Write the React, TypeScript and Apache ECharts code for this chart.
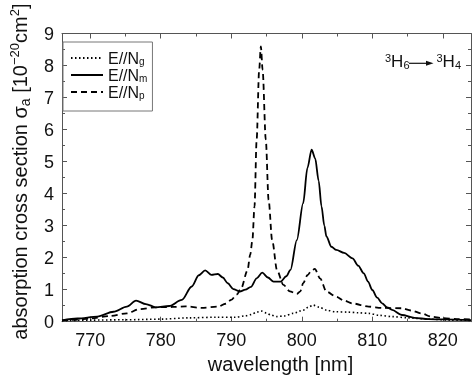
import React, { useEffect, useRef } from "react";
import * as echarts from "echarts";

const FONT = "Liberation Sans, Arial, sans-serif";

const xMajorTicks = [770, 780, 790, 800, 810, 820];
const xMinorTicks = [775, 785, 795, 805, 815];

const ngData: [number, number][] = [
  [766, 0.03], [770, 0.05], [775, 0.06], [780, 0.08], [784, 0.12], [788, 0.14], [790.5, 0.14],
  [792, 0.18], [792.8, 0.22], [793.6, 0.3], [794.3, 0.33], [795, 0.27], [795.6, 0.21], [796.5, 0.16],
  [797.5, 0.18], [798.8, 0.26], [800.2, 0.36], [801, 0.46], [801.6, 0.52], [802.5, 0.45], [803.5, 0.36],
  [804.8, 0.31], [806.5, 0.3], [808, 0.28], [809.5, 0.26], [811, 0.2], [812.8, 0.16], [815, 0.12],
  [818, 0.08], [821, 0.05], [824, 0.04],
];

const nmData: [number, number][] = [
  [766, 0.04], [768.2, 0.1], [771, 0.16], [773.3, 0.31], [775.2, 0.47], [776.5, 0.66], [777.9, 0.55],
  [779.3, 0.45], [781.2, 0.49], [783, 0.68], [784.4, 1.1], [785.4, 1.45], [786.3, 1.6], [787.2, 1.46],
  [788.1, 1.49], [788.8, 1.38], [789.5, 1.2], [790.3, 1.02], [791.2, 0.94], [792, 1.0], [792.8, 1.09],
  [793.6, 1.35], [794.4, 1.53], [795.2, 1.38], [796, 1.25], [797, 1.25], [797.8, 1.42], [798.4, 1.62],
  [799.3, 2.55], [800.2, 3.7], [800.8, 4.8], [801.4, 5.37], [801.9, 5.1], [802.4, 4.4], [802.8, 3.6],
  [803.2, 3.0], [803.5, 2.66], [804.2, 2.34], [804.9, 2.24], [806, 2.15], [807.2, 1.98], [808, 1.75],
  [808.8, 1.51], [809.4, 1.25], [810, 0.99], [810.7, 0.75], [811.4, 0.57], [812.1, 0.45], [812.8, 0.37],
  [814.2, 0.21], [816, 0.12], [818, 0.08], [820, 0.07], [824, 0.05],
];

const npData: [number, number][] = [
  [766, 0.04], [768, 0.06], [770, 0.1], [772.8, 0.18], [775.2, 0.26], [777, 0.39], [779.3, 0.45],
  [781.7, 0.46], [783.5, 0.48], [785.8, 0.43], [788.1, 0.47], [789.2, 0.56], [790, 0.68], [790.8, 0.85],
  [791.4, 1.04], [792.3, 1.6], [792.7, 2.1], [793, 2.55], [793.3, 3.6], [793.6, 5.68], [793.96, 7.86],
  [794.2, 8.6], [794.45, 7.86], [794.9, 5.68], [795.3, 3.8], [795.8, 2.55], [796.5, 1.6], [797.4, 1.15],
  [798.3, 0.95], [799.3, 0.87], [799.8, 0.95], [800.2, 1.2], [800.8, 1.45], [801.4, 1.6], [801.85, 1.65],
  [802.6, 1.35], [803.5, 0.94], [804.9, 0.78], [806, 0.66], [807.2, 0.57], [809.5, 0.47], [811.4, 0.43],
  [814.2, 0.42], [815.5, 0.35], [817, 0.26], [818.3, 0.16], [820, 0.11], [822, 0.08], [824, 0.07],
];

const AX = "#555";

function xAx(position: "top" | "bottom", ticks: number[], len: number, labels: boolean, line: boolean) {
  return {
    type: "value",
    position,
    min: 766,
    max: 824,
    axisLine: { show: line, lineStyle: { color: AX, width: 1 } },
    axisTick: { show: true, inside: true, length: len, customValues: ticks, lineStyle: { color: AX } },
    axisLabel: labels
      ? { show: true, customValues: ticks, margin: 9, fontSize: 18, color: "#111", fontFamily: FONT }
      : { show: false },
    splitLine: { show: false },
  };
}

function yAx(position: "left" | "right", labels: boolean) {
  return {
    type: "value",
    position,
    min: 0,
    max: 9,
    interval: 1,
    axisLine: { show: true, lineStyle: { color: AX, width: 1 } },
    axisTick: { show: true, inside: true, length: 5, lineStyle: { color: AX } },
    minorTick: { show: true, splitNumber: 2, length: 3, lineStyle: { color: AX } },
    axisLabel: labels ? { show: true, margin: 8, fontSize: 18, color: "#111", fontFamily: FONT } : { show: false },
    splitLine: { show: false },
  };
}

const annRich = {
  p: { fontSize: 11, lineHeight: 8, verticalAlign: "top", fontFamily: FONT, color: "#111" },
  h: { fontSize: 17, lineHeight: 18, verticalAlign: "middle", fontFamily: FONT, color: "#111" },
  b: { fontSize: 11, lineHeight: 6, verticalAlign: "bottom", fontFamily: FONT, color: "#111" },
};

export default function App() {
  const ref = useRef<HTMLDivElement>(null);
  useEffect(() => {
    if (!ref.current) return;
    const chart = echarts.init(ref.current, undefined, { renderer: "svg" });
    const xs = [
      xAx("bottom", xMajorTicks, 5, true, true),
      xAx("bottom", xMinorTicks, 3, false, false),
      xAx("top", xMajorTicks, 5, false, true),
      xAx("top", xMinorTicks, 3, false, false),
    ];
    (xs[0] as any).name = "wavelength [nm]";
    (xs[0] as any).nameLocation = "middle";
    (xs[0] as any).nameGap = 25;
    (xs[0] as any).nameTextStyle = { fontSize: 20, color: "#111", fontFamily: FONT, padding: [0, 0, 0, 28] };
    const ys = [yAx("left", true), yAx("right", false)];
    (ys[0] as any).name =
      "{t|absorption cross section σ}{b|a}{t| [10}{p|−20}{t|cm}{p|2}{t|]}";
    (ys[0] as any).nameLocation = "middle";
    (ys[0] as any).nameRotate = 90;
    (ys[0] as any).nameGap = 30;
    (ys[0] as any).nameTextStyle = {
      color: "#111",
      fontFamily: FONT,
      padding: [0, 0, 0, 12],
      rich: {
        t: { fontSize: 20, lineHeight: 24, fontFamily: FONT, color: "#111" },
        b: { fontSize: 14, lineHeight: 12, verticalAlign: "bottom", fontFamily: FONT, color: "#111" },
        p: { fontSize: 13, lineHeight: 12, verticalAlign: "top", fontFamily: FONT, color: "#111" },
      },
    };
    const lineSeries = (name: string, data: [number, number][], type: any, width: number) => ({
      name,
      type: "line",
      xAxisIndex: 0,
      yAxisIndex: 0,
      data,
      symbol: "none",
      smooth: 0.3,
      smoothMonotone: "x",
      lineStyle: { color: "#000", width, type },
      itemStyle: { color: "#000" },
    });
    chart.setOption({
      animation: false,
      grid: { left: 54.5, right: 3, top: 33.5, bottom: 59.3, containLabel: false },
      xAxis: xs,
      yAxis: ys,
      legend: {
        orient: "vertical",
        left: 63,
        top: 42,
        padding: [8, 5, 11, 7],
        itemGap: 1,
        itemWidth: 32,
        itemHeight: 14,
        borderColor: "#777",
        borderWidth: 1,
        borderRadius: 0,
        itemStyle: { opacity: 0 },
        data: ["E//Ng", "E//Nm", "E//Np"],
        formatter: (name: string) => `{n|${name.slice(0, -1)}}{s|${name.slice(-1)}}`,
        textStyle: {
          color: "#111",
          fontFamily: FONT,
          rich: {
            n: { fontSize: 16, lineHeight: 16, fontFamily: FONT, color: "#111" },
            s: { fontSize: 10, lineHeight: 6, verticalAlign: "bottom", fontFamily: FONT, color: "#111" },
          },
        },
      },
      graphic: [
        { type: "text", x: 385, y: 52.2, style: { text: "{p|3}{h|H}{b|6}", rich: annRich, fontFamily: FONT, fill: "#111" } },
        { type: "line", shape: { x1: 409, y1: 63.3, x2: 428, y2: 63.3 }, style: { stroke: "#111", lineWidth: 1.2 } },
        { type: "polygon", shape: { points: [[426, 60.8], [433.5, 63.3], [426, 65.8]] }, style: { fill: "#111" } },
        { type: "text", x: 436.5, y: 52.2, style: { text: "{p|3}{h|H}{b|4}", rich: annRich, fontFamily: FONT, fill: "#111" } },
      ],
      series: [
        lineSeries("E//Ng", ngData, [1.5, 2.5], 1.6),
        lineSeries("E//Nm", nmData, "solid", 1.8),
        lineSeries("E//Np", npData, [6, 4], 1.8),
      ],
    });
    return () => chart.dispose();
  }, []);
  return <div ref={ref} style={{ position: "fixed", left: 0, top: 0, width: 474, height: 381 }} />;
}
